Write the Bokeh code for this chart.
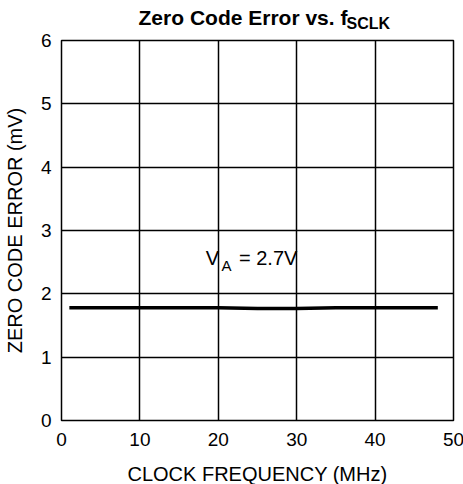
from bokeh.plotting import figure
from bokeh.models import Label, Range1d, FixedTicker, LinearAxis
from bokeh.embed import file_html
from bokeh.resources import INLINE

freq_mhz = [1, 5, 10, 15, 20, 25, 30, 35, 40, 45, 48]
zero_code_error_mv = [1.78, 1.78, 1.78, 1.78, 1.78, 1.77, 1.77, 1.78, 1.78, 1.78, 1.78]
x_ticks = [0, 10, 20, 30, 40, 50]
y_ticks = [0, 1, 2, 3, 4, 5, 6]
title_main = "Zero Code Error vs. f"
title_sub = "SCLK"
title_main_pos = 23.15
title_sub_pos = 39.13

FONT = "Liberation Sans"

p = figure(width=463, height=484, output_backend="svg", toolbar_location=None,
           title=None, x_range=Range1d(0, 50), y_range=Range1d(0, 6),
           min_border_left=60, min_border_right=11, min_border_top=40, min_border_bottom=64)
p.frame_width = 392
p.frame_height = 380

p.line(freq_mhz, zero_code_error_mv, line_color="black", line_width=3.5)

for ax in (p.xaxis, p.yaxis):
    ax.axis_line_color = None
    ax.major_tick_in = 0
    ax.major_tick_out = 0
    ax.minor_tick_line_color = None
    ax.major_label_text_font = FONT
    ax.major_label_text_font_size = "19px"
    ax.major_label_text_color = "black"
    ax.axis_label_text_font = FONT
    ax.axis_label_text_font_size = "20px"
    ax.axis_label_text_font_style = "normal"
    ax.axis_label_text_color = "black"
p.xaxis.ticker = FixedTicker(ticks=x_ticks)
p.yaxis.ticker = FixedTicker(ticks=y_ticks)
p.xgrid.ticker = FixedTicker(ticks=x_ticks)
p.ygrid.ticker = FixedTicker(ticks=y_ticks)
p.xaxis.major_label_standoff = 12
p.yaxis.major_label_standoff = 10
p.xaxis.axis_label = "CLOCK FREQUENCY (MHz)"
p.yaxis.axis_label = "ZERO CODE ERROR (mV)"
p.xaxis.axis_label_standoff = 14
p.yaxis.axis_label_standoff = 12

p.xgrid.grid_line_color = "black"
p.ygrid.grid_line_color = "black"
p.xgrid.grid_line_width = 1.5
p.ygrid.grid_line_width = 1.5
p.outline_line_color = "black"
p.outline_line_width = 1.5
p.outline_line_alpha = 1.0


def title_axis(pos, txt, size, standoff):
    a = LinearAxis(ticker=FixedTicker(ticks=[pos]), major_label_overrides={pos: txt})
    a.axis_line_color = None
    a.major_tick_in = 0
    a.major_tick_out = 0
    a.minor_tick_line_color = None
    a.major_label_text_font = FONT
    a.major_label_text_font_size = size
    a.major_label_text_font_style = "bold"
    a.major_label_text_color = "black"
    a.major_label_standoff = standoff
    return a


# Title "Zero Code Error vs. f" with subscript "SCLK" (drawn as label text above the frame)
p.add_layout(title_axis(title_sub_pos, title_sub, "16px", 9), "above")
p.add_layout(title_axis(title_main_pos, title_main, "21px", -17), "above")

# V_A annotation
p.add_layout(Label(x=18.4, y=2.57, text="V", text_font=FONT, text_font_size="20px",
                   text_color="black", text_baseline="alphabetic", text_align="left"))
p.add_layout(Label(x=20.4, y=2.45, text="A", text_font=FONT, text_font_size="15px",
                   text_color="black", text_baseline="alphabetic", text_align="left"))
p.add_layout(Label(x=22.64, y=2.57, text="= 2.7V", text_font=FONT, text_font_size="20px",
                   text_color="black", text_baseline="alphabetic", text_align="left"))

open("out.html", "w").write(file_html(p, INLINE))
